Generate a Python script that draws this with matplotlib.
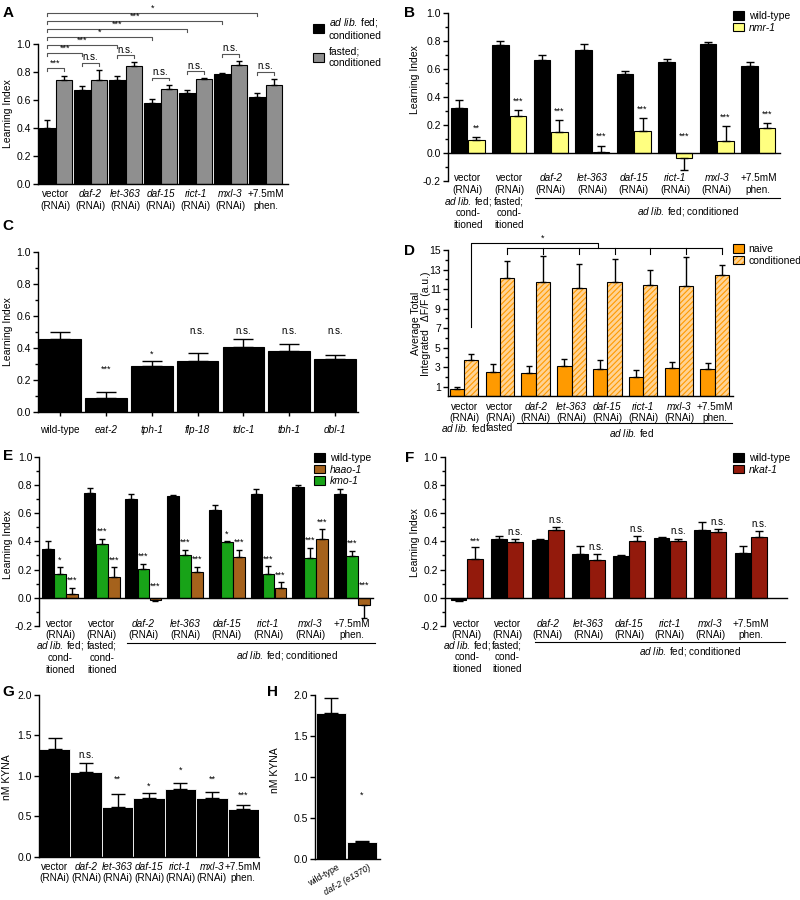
import numpy as np
import matplotlib.pyplot as plt
from matplotlib.patches import Patch
from matplotlib.legend_handler import HandlerTuple
from matplotlib.ticker import MultipleLocator
from matplotlib.transforms import blended_transform_factory

plt.rcParams["font.family"] = ["Liberation Sans", "DejaVu Sans"]
plt.rcParams["mathtext.fontset"] = "custom"
plt.rcParams["mathtext.rm"] = "Liberation Sans"
plt.rcParams["mathtext.it"] = "Liberation Sans:italic"
plt.rcParams["axes.unicode_minus"] = False
plt.rcParams["hatch.linewidth"] = 0.8

W, H = 800, 900

# shared labels
rnai_top = ["vector", "daf-2", "let-363", "daf-15", "rict-1", "mxl-3", "+7.5mM"]
rnai_bot = ["(RNAi)"] * 6 + ["phen."]
genes = {"daf-2", "let-363", "daf-15", "rict-1", "mxl-3", "eat-2", "tph-1", "flp-18",
         "tdc-1", "tbh-1", "dbl-1", "nmr-1", "haao-1", "kmo-1", "nkat-1", "daf-2 (e1370)"}
ADLIB = r"$\mathit{ad\ lib.}\:$"
cond_cols = [["vector", "(RNAi)", ADLIB + "fed;", "cond-", "itioned"],
             ["vector", "(RNAi)", "fasted;", "cond-", "itioned"]] + \
            [[t, b] for t, b in zip(rnai_top[1:], rnai_bot[1:])]

# A: learning index, ad lib fed vs fasted
A_fed = [0.40, 0.67, 0.74, 0.58, 0.65, 0.785, 0.62]
A_fed_err = [0.06, 0.03, 0.035, 0.03, 0.02, 0.007, 0.03]
A_fast = [0.74, 0.74, 0.845, 0.68, 0.75, 0.85, 0.71]
A_fast_err = [0.035, 0.075, 0.025, 0.03, 0.005, 0.03, 0.04]
A_pair_sig = ["***", "n.s.", "n.s.", "n.s.", "n.s.", "n.s.", "n.s."]
A_vs_vector_sig = ["***", "***", "*", "***", "***", "*"]

# B: wild-type vs nmr-1
B_wt = [0.32, 0.77, 0.665, 0.735, 0.565, 0.645, 0.78, 0.62]
B_wt_err = [0.055, 0.03, 0.03, 0.04, 0.02, 0.025, 0.01, 0.03]
B_nmr = [0.095, 0.26, 0.15, 0.005, 0.16, -0.035, 0.085, 0.18]
B_nmr_err = [0.02, 0.045, 0.085, 0.045, 0.09, 0.09, 0.105, 0.035]
B_sig = ["**", "***", "***", "***", "***", "***", "***", "***"]

# C: mutants
C_labels = ["wild-type", "eat-2", "tph-1", "flp-18", "tdc-1", "tbh-1", "dbl-1"]
C_vals = [0.457, 0.085, 0.285, 0.32, 0.405, 0.377, 0.327]
C_err = [0.043, 0.038, 0.035, 0.045, 0.048, 0.045, 0.03]
C_sig = ["", "***", "*", "n.s.", "n.s.", "n.s.", "n.s."]
C_sig_y = [0, 0.24, 0.33, 0.47, 0.47, 0.47, 0.47]

# D: calcium imaging
D_naive = [0.76, 2.53, 2.37, 3.12, 2.81, 2.02, 2.88, 2.78]
D_naive_err = [0.2, 0.76, 0.75, 0.75, 0.92, 0.65, 0.68, 0.61]
D_cond = [3.73, 12.1, 11.77, 11.09, 11.7, 11.43, 11.36, 12.42]
D_cond_err = [0.6, 1.8, 2.66, 2.46, 2.4, 1.53, 2.9, 1.06]

# E: wild-type, kmo-1, haao-1
E_wt = [0.348, 0.74, 0.70, 0.722, 0.624, 0.736, 0.788, 0.736]
E_wt_err = [0.057, 0.036, 0.034, 0.004, 0.036, 0.034, 0.012, 0.034]
E_kmo = [0.172, 0.38, 0.205, 0.30, 0.393, 0.17, 0.28, 0.296]
E_kmo_err = [0.044, 0.04, 0.035, 0.04, 0.007, 0.054, 0.073, 0.038]
E_haao = [0.028, 0.15, -0.016, 0.18, 0.292, 0.068, 0.416, -0.052]
E_haao_err = [0.042, 0.066, 0.004, 0.04, 0.048, 0.042, 0.071, 0.088]
E_kmo_sig = ["*", "***", "***", "***", "*", "***", "***", "***"]
E_haao_sig = ["***"] * 8

# F: wild-type vs nkat-1
F_wt = [-0.019, 0.416, 0.41, 0.31, 0.294, 0.424, 0.482, 0.315]
F_wt_err = [0.004, 0.024, 0.01, 0.06, 0.012, 0.004, 0.054, 0.05]
F_nkat = [0.275, 0.393, 0.482, 0.27, 0.405, 0.40, 0.466, 0.428]
F_nkat_err = [0.082, 0.023, 0.018, 0.04, 0.03, 0.02, 0.024, 0.047]
F_sig = ["***", "n.s.", "n.s.", "n.s.", "n.s.", "n.s.", "n.s.", "n.s."]

# G: KYNA levels
G_vals = [1.335, 1.05, 0.62, 0.73, 0.835, 0.73, 0.587]
G_err = [0.135, 0.113, 0.155, 0.06, 0.082, 0.075, 0.053]
G_sig = ["", "n.s.", "**", "*", "*", "**", "***"]
G_sig_y = [0, 1.19, 0.9, 0.81, 1.01, 0.9, 0.7]

# H
H_labels = ["wild-type", "daf-2 (e1370)"]
H_vals = [1.777, 0.207]
H_err = [0.19, 0.013]
H_sig = ["", "*"]

GRAY = "#8f8f8f"
YELLOW = "#ffff80"
ORANGE = "#ff9a00"
ORANGE_L = "#ffd394"
BROWN = "#a5621c"
GREEN = "#18a318"
RED = "#931a0c"

fig = plt.figure(figsize=(8, 9), dpi=100)


def add_ax(l, t, r, b):
    return fig.add_axes([l / W, 1 - b / H, (r - l) / W, (b - t) / H])


def style(ax, ylim, major, minor=None, zero=False):
    ax.set_ylim(*ylim)
    for s in ("top", "right"):
        ax.spines[s].set_visible(False)
    for s in ("left", "bottom"):
        ax.spines[s].set_linewidth(1.0)
    ax.yaxis.set_major_locator(MultipleLocator(major))
    if minor:
        ax.yaxis.set_minor_locator(MultipleLocator(minor))
    ax.tick_params(axis="y", which="major", length=3.5, width=1, labelsize=7.5, pad=1.5)
    ax.tick_params(axis="y", which="minor", length=2, width=1)
    ax.tick_params(axis="x", length=0, labelbottom=False)
    if zero:
        ax.spines["bottom"].set_position(("data", 0))


def bars(ax, x, vals, errs, color, width, cap, edge="black", lw=0.8):
    ax.bar(x, vals, width, color=color, edgecolor=edge, linewidth=lw, zorder=2)
    lo = [e if v < 0 else 0 for v, e in zip(vals, errs)]
    hi = [0 if v < 0 else e for v, e in zip(vals, errs)]
    ax.errorbar(x, vals, yerr=[lo, hi], fmt="none", ecolor="black", elinewidth=1.0,
                capsize=cap, capthick=1.0, zorder=3)


def xlabels(ax, xs, cols, ys, fs=7.2):
    tr = blended_transform_factory(ax.transData, fig.transFigure)
    for x, lines in zip(xs, cols):
        for k, s in enumerate(lines):
            ax.text(x, 1 - ys[k] / H, s, transform=tr, ha="center", va="center", fontsize=fs,
                    style="italic" if s in genes else "normal")


def underline(ax, x1, x2, y_line, y_text, x_text, text):
    tr = blended_transform_factory(ax.transData, fig.transFigure)
    ax.plot([x1, x2], [1 - y_line / H] * 2, color="black", lw=0.8, transform=tr, clip_on=False)
    ax.text(x_text, 1 - y_text / H, text, transform=tr, ha="center", va="center", fontsize=7.2)


def bracket(ax, x1, x2, y, label, tick=0.02, color="#555555"):
    ax.plot([x1, x1, x2, x2], [y - tick, y, y, y - tick], color=color, lw=0.8, clip_on=False)
    ax.text((x1 + x2) / 2, y + 0.004, label, ha="center", va="bottom",
            fontsize=7 if label == "n.s." else 6.5)


def sig(ax, x, y, label, va="bottom"):
    ax.text(x, y, label, ha="center", va=va, fontsize=7 if label == "n.s." else 6.5)


def legend(handles, labels, x, y, spacing=0.2):
    leg = fig.legend(handles, labels, loc="upper left", bbox_to_anchor=(x / W, 1 - y / H),
                     frameon=False, fontsize=7.5, handlelength=1.1, handleheight=0.9,
                     handletextpad=0.4, labelspacing=spacing, borderpad=0, borderaxespad=0,
                     handler_map={tuple: HandlerTuple(ndivide=1, pad=0)})
    for t in leg.get_texts():
        if t.get_text() in genes:
            t.set_fontstyle("italic")


def ylabel(ax, text, xpx, yfrac, l, r):
    ax.set_ylabel(text, fontsize=7.5, va="center")
    ax.yaxis.set_label_coords((xpx - l) / (r - l), yfrac)


def patch(c):
    return Patch(facecolor=c, edgecolor="black", linewidth=0.8)


# ---------------- A ----------------
ax = add_ax(38, 44, 288, 184)
style(ax, (0, 1.0), 0.2)
x = np.arange(7)
bars(ax, x - 0.235, A_fed, A_fed_err, "black", 0.47, 2.5)
bars(ax, x + 0.235, A_fast, A_fast_err, GRAY, 0.47, 2.5)
ax.set_xlim(-0.5, 6.64)
for i in x:
    top = max(A_fed[i] + A_fed_err[i], A_fast[i] + A_fast_err[i]) + 0.05
    bracket(ax, i - 0.235, i + 0.235, top, A_pair_sig[i])
for k, lab in enumerate(A_vs_vector_sig):
    bracket(ax, -0.235, k + 1 - 0.235, 0.935 + 0.057 * k, lab)
xlabels(ax, x, [[t, b] for t, b in zip(rnai_top, rnai_bot)], [194, 206])
ylabel(ax, "Learning Index", 8.3, 0.5, 38, 288)
legend([patch("black"), patch(GRAY)],
       [ADLIB + "fed;\nconditioned", "fasted;\nconditioned"], 313, 16, spacing=0.55)

# ---------------- B ----------------
ax = add_ax(447.7, 12.7, 780, 181)
style(ax, (-0.2, 1.0), 0.2, 0.1, zero=True)
x = np.arange(8)
bars(ax, x - 0.21, B_wt, B_wt_err, "black", 0.4, 3)
bars(ax, x + 0.21, B_nmr, B_nmr_err, YELLOW, 0.4, 3)
ax.set_xlim(-0.48, 7.52)
for i in x:
    top = max(B_nmr[i] + B_nmr_err[i], 0.06)
    sig(ax, i + 0.21, top + 0.03, B_sig[i])
xlabels(ax, x, cond_cols, [178, 190, 201.5, 213, 224.5])
underline(ax, 1.62, 7.52, 198.3, 211, 5.3, ADLIB + "fed; conditioned")
ylabel(ax, "Learning Index", 415, 0.6, 447.7, 780)
legend([patch("black"), patch(YELLOW)], ["wild-type", "nmr-1"], 733, 11, spacing=0.15)

# ---------------- C ----------------
ax = add_ax(38, 251.7, 358.3, 411.7)
style(ax, (0, 1.0), 0.2, 0.1)
x = np.arange(7)
bars(ax, x, C_vals, C_err, "black", 0.91, 7)
ax.set_xlim(-0.485, 6.51)
ax.set_xticks(x)
ax.tick_params(axis="x", length=3, width=1)
for i in x:
    if C_sig[i]:
        sig(ax, i, C_sig_y[i], C_sig[i])
xlabels(ax, x, [[c] for c in C_labels], [430])
ylabel(ax, "Learning Index", 8.3, 0.5, 38, 358.3)

# ---------------- D ----------------
ax = add_ax(447.7, 250.2, 733, 396.4)
style(ax, (0, 15), 2)
ax.set_yticks(range(1, 16, 2))
ax.set_yticks(range(2, 15, 2), minor=True)
x = np.arange(8)
bars(ax, x - 0.2, D_naive, D_naive_err, ORANGE, 0.4, 2.5)
ax.bar(x + 0.2, D_cond, 0.4, color=ORANGE_L, edgecolor=ORANGE, hatch="//////", linewidth=0, zorder=2)
bars(ax, x + 0.2, D_cond, D_cond_err, "none", 0.4, 2.5)
ax.set_xlim(-0.46, 7.51)
ax.plot([0.2, 0.2, 3.73, 3.73], [7.15, 15.7, 15.7, 15.19], color="black", lw=0.8, clip_on=False)
ax.plot([1.2, 7.2], [15.19, 15.19], color="black", lw=0.8, clip_on=False)
for i in range(1, 8):
    ax.plot([i + 0.2, i + 0.2], [15.19, 14.6], color="black", lw=0.8, clip_on=False)
sig(ax, 2.2, 15.75, "*")
d_cols = [["vector", "(RNAi)", ADLIB + "fed"], ["vector", "(RNAi)", "fasted"]] + \
         [[t, b] for t, b in zip(rnai_top[1:], rnai_bot[1:])]
xlabels(ax, x, d_cols, [406.7, 417.7, 428.3])
underline(ax, 1.47, 7.47, 423, 433, 4.68, ADLIB + "fed")
ax.set_ylabel("Average Total\nIntegrated   \u0394F/F (a.u.)", fontsize=7.5, va="center",
              linespacing=1.0)
ax.yaxis.set_label_coords((421 - 447.7) / (733 - 447.7), 0.5)
legend([patch(ORANGE),
        (Patch(facecolor=ORANGE_L, edgecolor=ORANGE, hatch="//////", linewidth=0),
         Patch(fill=False, edgecolor="black", linewidth=0.8))],
       ["naive", "conditioned"], 733, 244, spacing=0.15)

# ---------------- E ----------------
ax = add_ax(39.3, 456.7, 373, 626)
style(ax, (-0.2, 1.0), 0.2, 0.1, zero=True)
x = np.arange(8)
bars(ax, x - 0.29, E_wt, E_wt_err, "black", 0.28, 2.2)
bars(ax, x, E_kmo, E_kmo_err, GREEN, 0.28, 2.2)
bars(ax, x + 0.29, E_haao, E_haao_err, BROWN, 0.28, 2.2)
ax.set_xlim(-0.496, 7.506)
for i in x:
    sig(ax, i, max(E_kmo[i] + E_kmo_err[i], 0.03) + 0.02, E_kmo_sig[i])
    sig(ax, i + 0.29, max(E_haao[i] + E_haao_err[i], 0.03) + 0.02, E_haao_sig[i])
xlabels(ax, x, cond_cols, [624, 635, 645.7, 658, 670])
underline(ax, 1.6, 7.55, 643.3, 655, 5.45, ADLIB + "fed; conditioned")
ylabel(ax, "Learning Index", 8.3, 0.48, 39.3, 373)
legend([patch("black"), patch(BROWN), patch(GREEN)], ["wild-type", "haao-1", "kmo-1"],
       314, 453, spacing=0.15)

# ---------------- F ----------------
ax = add_ax(445, 456.7, 787, 626)
style(ax, (-0.2, 1.0), 0.2, 0.1, zero=True)
x = np.arange(8)
bars(ax, x - 0.2, F_wt, F_wt_err, "black", 0.39, 3)
bars(ax, x + 0.2, F_nkat, F_nkat_err, RED, 0.39, 3)
ax.set_xlim(-0.534, 7.89)
for i in x:
    sig(ax, i + 0.2, F_nkat[i] + F_nkat_err[i] + 0.015, F_sig[i])
xlabels(ax, x, cond_cols, [624, 635, 645.7, 657.3, 669])
underline(ax, 1.68, 7.84, 641.7, 651, 5.5, ADLIB + "fed; conditioned")
ylabel(ax, "Learning Index", 415, 0.49, 445, 787)
legend([patch("black"), patch(RED)], ["wild-type", "nkat-1"], 733, 453, spacing=0.15)

# ---------------- G ----------------
ax = add_ax(39, 695, 259, 856.7)
style(ax, (0, 2.0), 0.5)
x = np.arange(7)
bars(ax, x, G_vals, G_err, "black", 1.0, 5, edge="white", lw=0.6)
ax.set_xlim(-0.5, 6.5)
for i in x:
    if G_sig[i]:
        sig(ax, i, G_sig_y[i], G_sig[i])
xlabels(ax, x, [[t, b] for t, b in zip(rnai_top, rnai_bot)], [866.7, 878.3])
ylabel(ax, "nM KYNA", 7.5, 0.49, 39, 259)

# ---------------- H ----------------
ax = add_ax(315, 695, 380, 859)
style(ax, (0, 2.0), 0.5)
x = np.arange(2)
bars(ax, x, H_vals, H_err, "black", 0.97, 5, edge="white", lw=0.6)
ax.set_xlim(-0.52, 1.58)
for i in x:
    if H_sig[i]:
        sig(ax, i, 0.72, H_sig[i])
tr = blended_transform_factory(ax.transData, fig.transFigure)
for i, lab in enumerate(H_labels):
    ax.text(i + 0.18, 1 - 863 / H, lab, transform=tr, rotation=30, rotation_mode="anchor",
            ha="right", va="top", fontsize=6.3, style="italic" if lab in genes else "normal")
ylabel(ax, "nM KYNA", 275, 0.54, 315, 380)

# panel letters
for lab, px, py in [("A", 8, 13), ("B", 410, 13), ("C", 8, 226), ("D", 410, 251),
                    ("E", 8, 456), ("F", 410, 458), ("G", 8, 692), ("H", 272, 692)]:
    fig.text(px / W, 1 - py / H, lab, fontsize=11, fontweight="bold", ha="center", va="center")

fig.savefig("out.png", dpi=100)
